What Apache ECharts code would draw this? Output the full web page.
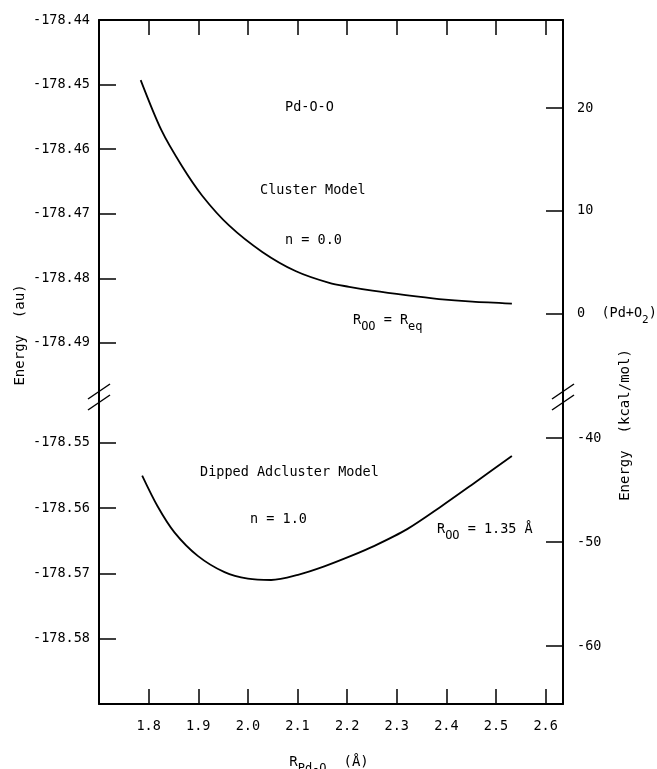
<!DOCTYPE html>
<html>
<head>
<meta charset="utf-8">
<script src="https://cdn.jsdelivr.net/npm/echarts@6/dist/echarts.min.js"></script>
<style>
html, body { margin: 0; background: #fff; }
#chart { width: 657px; height: 769px; }
</style>
</head>
<body>
<div id="chart"></div>
<script>
// values: R(Pd-O) in angstrom, energy in au
const rCluster = [1.784, 1.826, 1.867, 1.908, 1.962, 2.029, 2.097, 2.164, 2.204, 2.251, 2.318, 2.385, 2.452, 2.532];
const eCluster = [-178.4493, -178.4571, -178.4626, -178.4672, -178.4718, -178.4759, -178.4789, -178.4807, -178.4813, -178.4819, -178.4826, -178.4832, -178.4836, -178.4839];

const rAdcluster = [1.787, 1.818, 1.852, 1.899, 1.953, 2.000, 2.047, 2.101, 2.154, 2.208, 2.254, 2.321, 2.388, 2.455, 2.532];
const eAdcluster = [-178.5550, -178.5597, -178.5637, -178.5673, -178.5698, -178.5708, -178.5710, -178.5702, -178.5689, -178.5673, -178.5658, -178.5632, -178.5598, -178.5562, -178.5520];

const xTicks = [1.8, 1.9, 2.0, 2.1, 2.2, 2.3, 2.4, 2.5, 2.6];
const auTicksUpper = [-178.44, -178.45, -178.46, -178.47, -178.48, -178.49];
const auTicksLower = [-178.55, -178.56, -178.57, -178.58];
const kcalTicksUpper = [20, 10, 0];
const kcalTicksLower = [-40, -50, -60];

const E_REF = -178.4855;   // Pd + O2
const AU_TO_KCAL = 627.5;
const toKcal = au => (au - E_REF) * AU_TO_KCAL;

// the two pieces of the broken energy axis
const auUpper = [-178.49805, -178.44];
const auLower = [-178.59, -178.54265];

const LEFT = 99, RIGHT_X = 563, TOP = 20, BREAK_Y = 395, BOTTOM = 704;
const FONT = 'DejaVu Sans Mono';
const INK = '#000';

const axisLine = { show: true, onZero: false, lineStyle: { color: '#000', width: 2 } };
const tickStyle = { color: '#000', width: 1.5 };

function xAxisFor(gridIndex, position, withLabels) {
    return {
        type: 'value', gridIndex: gridIndex, position: position,
        min: 1.70, max: 2.635,
        axisLine: axisLine,
        axisTick: { show: true, inside: true, length: 15, customValues: xTicks, lineStyle: tickStyle },
        axisLabel: withLabels ? {
            show: true, customValues: xTicks, margin: 15,
            color: INK, fontFamily: FONT, fontSize: 13.5,
            formatter: v => v.toFixed(1)
        } : { show: false },
        splitLine: { show: false }
    };
}

function yAxisFor(gridIndex, position, range, ticks, fmt) {
    return {
        type: 'value', gridIndex: gridIndex, position: position,
        min: range[0], max: range[1],
        axisLine: axisLine,
        axisTick: { show: true, inside: true, length: 17, customValues: ticks, lineStyle: tickStyle },
        axisLabel: {
            show: true, customValues: ticks, formatter: fmt,
            margin: position === 'left' ? 9 : 14,
            color: INK, fontFamily: FONT, fontSize: 13.5,
            rich: { s: { fontSize: 11, fontFamily: FONT, color: INK, padding: [12, 0, 0, 0] } }
        },
        splitLine: { show: false }
    };
}

const fmtAu = v => v.toFixed(2);
const fmtKcal = v => (v === 0 ? '0  (Pd+O{s|2})' : String(v));

const sub = { fontSize: 12, fontFamily: FONT, fill: INK, padding: [14, 0, 0, 0] };

function note(text, x, y) {
    return {
        type: 'text', x: x, y: y, silent: true,
        style: {
            text: text, fill: INK, font: '13.5px "' + FONT + '"',
            align: 'left', verticalAlign: 'middle',
            rich: { s: sub }
        }
    };
}

function breakMarks(cx) {
    return [0, 11].map(dy => ({
        type: 'line', silent: true,
        shape: { x1: cx - 11, y1: BREAK_Y + 4 + dy, x2: cx + 11, y2: BREAK_Y - 11 + dy },
        style: { stroke: '#000', lineWidth: 1.5 }
    }));
}

const chart = echarts.init(document.getElementById('chart'));

const curveStyle = {
    type: 'line', smooth: 0.3, showSymbol: false, silent: true,
    lineStyle: { color: '#000', width: 1.8 }
};

chart.setOption({
    animation: false,
    backgroundColor: '#fff',
    textStyle: { fontFamily: FONT },
    grid: [
        { left: LEFT, width: RIGHT_X - LEFT, top: TOP, height: BREAK_Y - TOP, outerBoundsMode: 'none', containLabel: false },
        { left: LEFT, width: RIGHT_X - LEFT, top: BREAK_Y, height: BOTTOM - BREAK_Y, outerBoundsMode: 'none', containLabel: false }
    ],
    xAxis: [
        xAxisFor(0, 'top', false),
        xAxisFor(1, 'bottom', true)
    ],
    yAxis: [
        yAxisFor(0, 'left', auUpper, auTicksUpper, fmtAu),
        yAxisFor(0, 'right', auUpper.map(toKcal), kcalTicksUpper, fmtKcal),
        yAxisFor(1, 'left', auLower, auTicksLower, fmtAu),
        yAxisFor(1, 'right', auLower.map(toKcal), kcalTicksLower, fmtKcal)
    ],
    series: [
        Object.assign({
            name: 'Cluster Model', xAxisIndex: 0, yAxisIndex: 0,
            data: rCluster.map((r, i) => [r, eCluster[i]])
        }, curveStyle),
        Object.assign({
            name: 'Dipped Adcluster Model', xAxisIndex: 1, yAxisIndex: 2,
            data: rAdcluster.map((r, i) => [r, eAdcluster[i]])
        }, curveStyle)
    ],
    graphic: [
        note('Pd-O-O', 285, 107),
        note('Cluster Model', 260, 190),
        note('n = 0.0', 285, 240),
        note('R{s|OO} = R{s|eq}', 353, 320),
        note('Dipped Adcluster Model', 200, 472),
        note('n = 1.0', 250, 519),
        note('R{s|OO} = 1.35 Å', 437, 529),
        {
            type: 'text', x: 20, y: 335, rotation: Math.PI / 2, silent: true,
            style: { text: 'Energy  (au)', fill: INK, font: '14px "' + FONT + '"', align: 'center', verticalAlign: 'middle' }
        },
        {
            type: 'text', x: 625, y: 425, rotation: Math.PI / 2, silent: true,
            style: { text: 'Energy  (kcal/mol)', fill: INK, font: '14px "' + FONT + '"', align: 'center', verticalAlign: 'middle' }
        },
        {
            type: 'text', x: 329, y: 762, silent: true,
            style: {
                text: 'R{s|Pd-O}  (Å)', fill: INK, font: '14px "' + FONT + '"',
                align: 'center', verticalAlign: 'middle', rich: { s: sub }
            }
        }
    ].concat(breakMarks(LEFT), breakMarks(RIGHT_X))
});
</script>
</body>
</html>
